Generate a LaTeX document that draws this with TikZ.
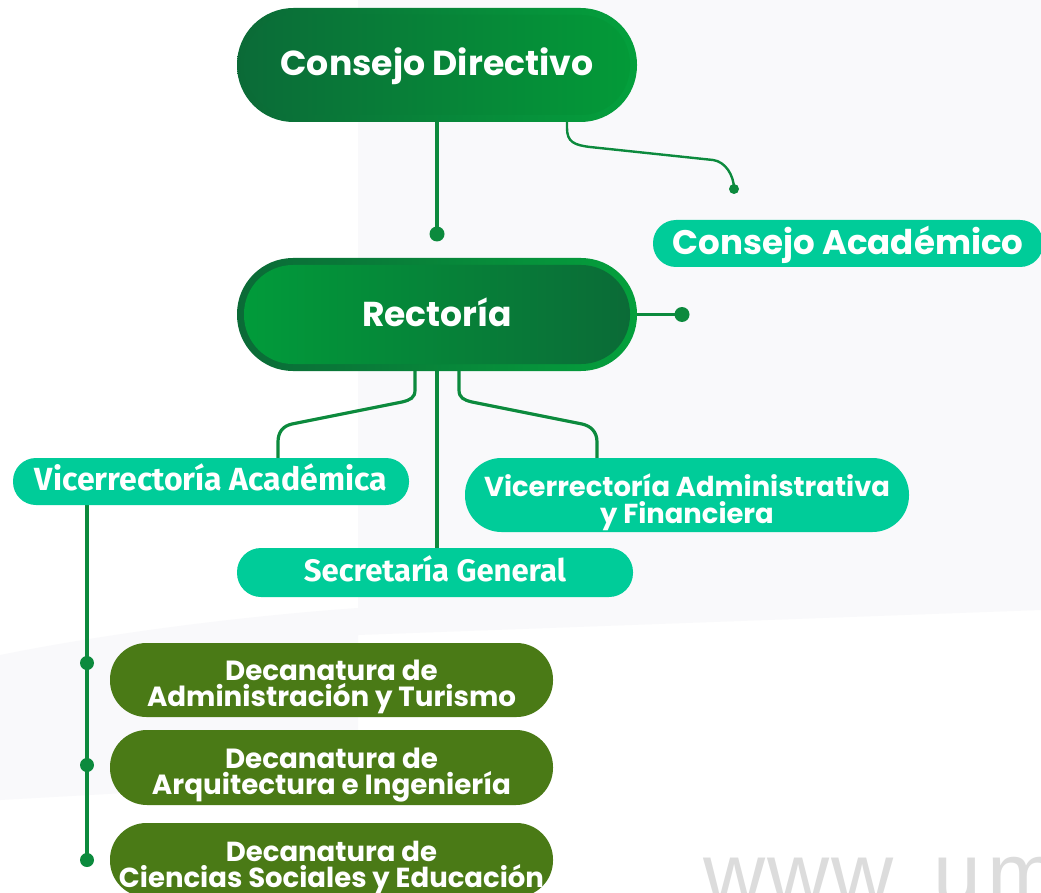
\documentclass[tikz,border=0pt]{standalone}
\usepackage{fontspec}
\setmainfont{Poppins}
\newfontfamily\firafont{Fira Sans}
\newfontfamily\wmfont{Liberation Sans}
\usepackage{graphicx}
\usetikzlibrary{calc}
\definecolor{dkg}{HTML}{0B6A37}
\definecolor{brg}{HTML}{04A03C}
\definecolor{cdinl}{HTML}{0B6B38}
\definecolor{cdinr}{HTML}{039B38}
\definecolor{rinl}{HTML}{019C3A}
\definecolor{rinr}{HTML}{0B6A37}
\definecolor{tealbox}{HTML}{00CC99}
\definecolor{olivebox}{HTML}{4A7A16}
\definecolor{linec}{HTML}{0C8A3D}
\definecolor{bgpale}{HTML}{F9F9FB}
\definecolor{wmgray}{HTML}{DCDCDC}
\pgfdeclarelayer{back}
\pgfdeclarelayer{lines}
\pgfsetlayers{back,lines,main}
\newsavebox\tmpbox
\newlength\natw
\newlength\bsk
% #1 target width, #2 shift of the baselines' middle below centre, #3 final line spacing, #4 (lines-1)*spacing, #5 lines separated by \cr
\newcommand\fitw[5]{%
  \sbox\tmpbox{\vbox{\halign{\hfil##\hfil\cr#5\crcr}}}%
  \natw=\wd\tmpbox
  \bsk=\dimexpr #3pt*\natw/\dimexpr #1pt\relax\relax
  \raisebox{0pt}[\dimexpr #4pt+#2pt+#2pt\relax][0pt]{\resizebox{#1pt}{!}{\vbox{\baselineskip=\bsk\lineskiplimit=-\maxdimen\lineskip=0pt\halign{\hfil##\hfil\cr#5\crcr}}}}}
\tikzset{
  pill/.style={rectangle, inner sep=0pt, text=white, font=\bfseries\fontsize{20}{20}\selectfont},
  rim/.style n args={2}{path picture={\shade[left color=#1, right color=#2, rounded corners=49pt]
     ([shift={(7,7)}]path picture bounding box.north west) rectangle ([shift={(-7,-7)}]path picture bounding box.south east);}},
  conn/.style={draw=linec, line width=3.2pt},
  connthin/.style={draw=linec, line width=2.4pt},
  dot/.style={fill=linec},
}
\begin{document}
\begin{tikzpicture}[x=1pt,y=-1pt]
\useasboundingbox (0,0) rectangle (1041,893);
\clip (0,0) rectangle (1041,893);
% nodes
\node[pill, minimum width=400pt, minimum height=114pt, rounded corners=56.5pt,
      left color=dkg, right color=brg, rim={cdinl}{cdinr}] (cd) at (437,65) {\fitw{313}{11}{20}{0}{Consejo Directivo}};
\node[pill, minimum width=390pt, minimum height=47pt, rounded corners=23pt, fill=tealbox] (ca) at (848,243.5) {\fitw{351}{11.5}{20}{0}{Consejo Académico}};
\node[pill, minimum width=400pt, minimum height=113pt, rounded corners=56pt,
      left color=dkg, right color=brg, rim={rinl}{rinr}] (rect) at (437,314.5) {\fitw{150}{11.5}{20}{0}{Rectoría}};
\node[pill, minimum width=396pt, minimum height=47pt, rounded corners=23pt, fill=tealbox] (va) at (211,481.5) {\firafont\fitw{352}{9}{20}{0}{Vicerrectoría Académica}};
\node[pill, minimum width=444pt, minimum height=74pt, rounded corners=36.5pt, fill=tealbox] (vaf) at (687,495) {\fitw{406}{14.5}{27}{27}{Vicerrectoría Administrativa\cr y Financiera}};
\node[pill, minimum width=396pt, minimum height=49pt, rounded corners=24pt, fill=tealbox] (sg) at (435,572.5) {\firafont\fitw{262}{9}{20}{0}{Secretaría General}};
\node[pill, minimum width=443pt, minimum height=74pt, rounded corners=36.5pt, fill=olivebox] (dec1) at (331.5,680) {\fitw{369}{13.5}{26}{26}{Decanatura de\cr Administración y Turismo}};
\node[pill, minimum width=443pt, minimum height=75pt, rounded corners=37pt, fill=olivebox] (dec2) at (331.5,767.5) {\fitw{359}{13.5}{26}{26}{Decanatura de\cr Arquitectura e Ingeniería}};
\node[pill, minimum width=443pt, minimum height=74pt, rounded corners=36.5pt, fill=olivebox] (dec3) at (331.5,860) {\fitw{425}{14.5}{26}{26}{Decanatura de\cr Ciencias Sociales y Educación}};
% watermark
\node[anchor=base west, inner sep=0pt, text=wmgray, font=\wmfont\fontsize{86}{86}\selectfont] (wm) at (703,903) {w\kern2pt w\kern2pt w\kern8pt .\kern8pt u\kern6pt m};
% coordinates
\coordinate (p1) at (437,234);
\coordinate (p2) at (682,314.5);
\coordinate (p3) at (734,189);
\coordinate (k1) at (567,0);
\coordinate (kL) at (415,0);
\coordinate (kR) at (459,0);
\coordinate (kVL) at (278,0);
\coordinate (kVR) at (597,0);
\coordinate (kA) at (87,0);
\coordinate (d1) at (87,663);
\coordinate (d2) at (87,765);
\coordinate (d3) at (87,860);
\begin{pgfonlayer}{back}
\fill[white] (0,0) rectangle (1041,893);
\fill[bgpale] (358,0) -- (1041,0) -- (1041,610) -- (358,635) -- cycle;
\fill[bgpale] (0,655) .. controls (150,625) and (300,612) .. (358,608) -- (358,780) -- (0,800) -- cycle;
\end{pgfonlayer}
\begin{pgfonlayer}{lines}
\draw[conn] (cd.south) -- (p1);
\fill[dot] (p1) circle (7.5pt);
\draw[conn] (rect.east) -- (p2);
\fill[dot] (p2) circle (7.5pt);
\draw[connthin] (cd.south -| k1) -- (567,128) .. controls (567,142) and (574,145) .. (590,147) -- (713,160) .. controls (725,161.5) and (734,175) .. (p3);
\fill[dot] (p3) circle (5pt);
\draw[conn] (rect.south -| kL) -- (415,390) .. controls (415,398) and (410,400) .. (402,402) -- (292,424) .. controls (283,426) and (278,432) .. (278,442) -- (va.north -| kVL);
\draw[conn] (rect.south -| kR) -- (459,390) .. controls (459,398) and (464,400) .. (472,402) -- (582,424) .. controls (591,426) and (597,432) .. (597,442) -- (vaf.north -| kVR);
\draw[conn] (rect.south) -- (rect.south |- sg.north);
\draw[conn] (va.south -| kA) -- (d3);
\fill[dot] (d1) circle (7pt);
\fill[dot] (d2) circle (7pt);
\fill[dot] (d3) circle (7pt);
\end{pgfonlayer}
\end{tikzpicture}
\end{document}
